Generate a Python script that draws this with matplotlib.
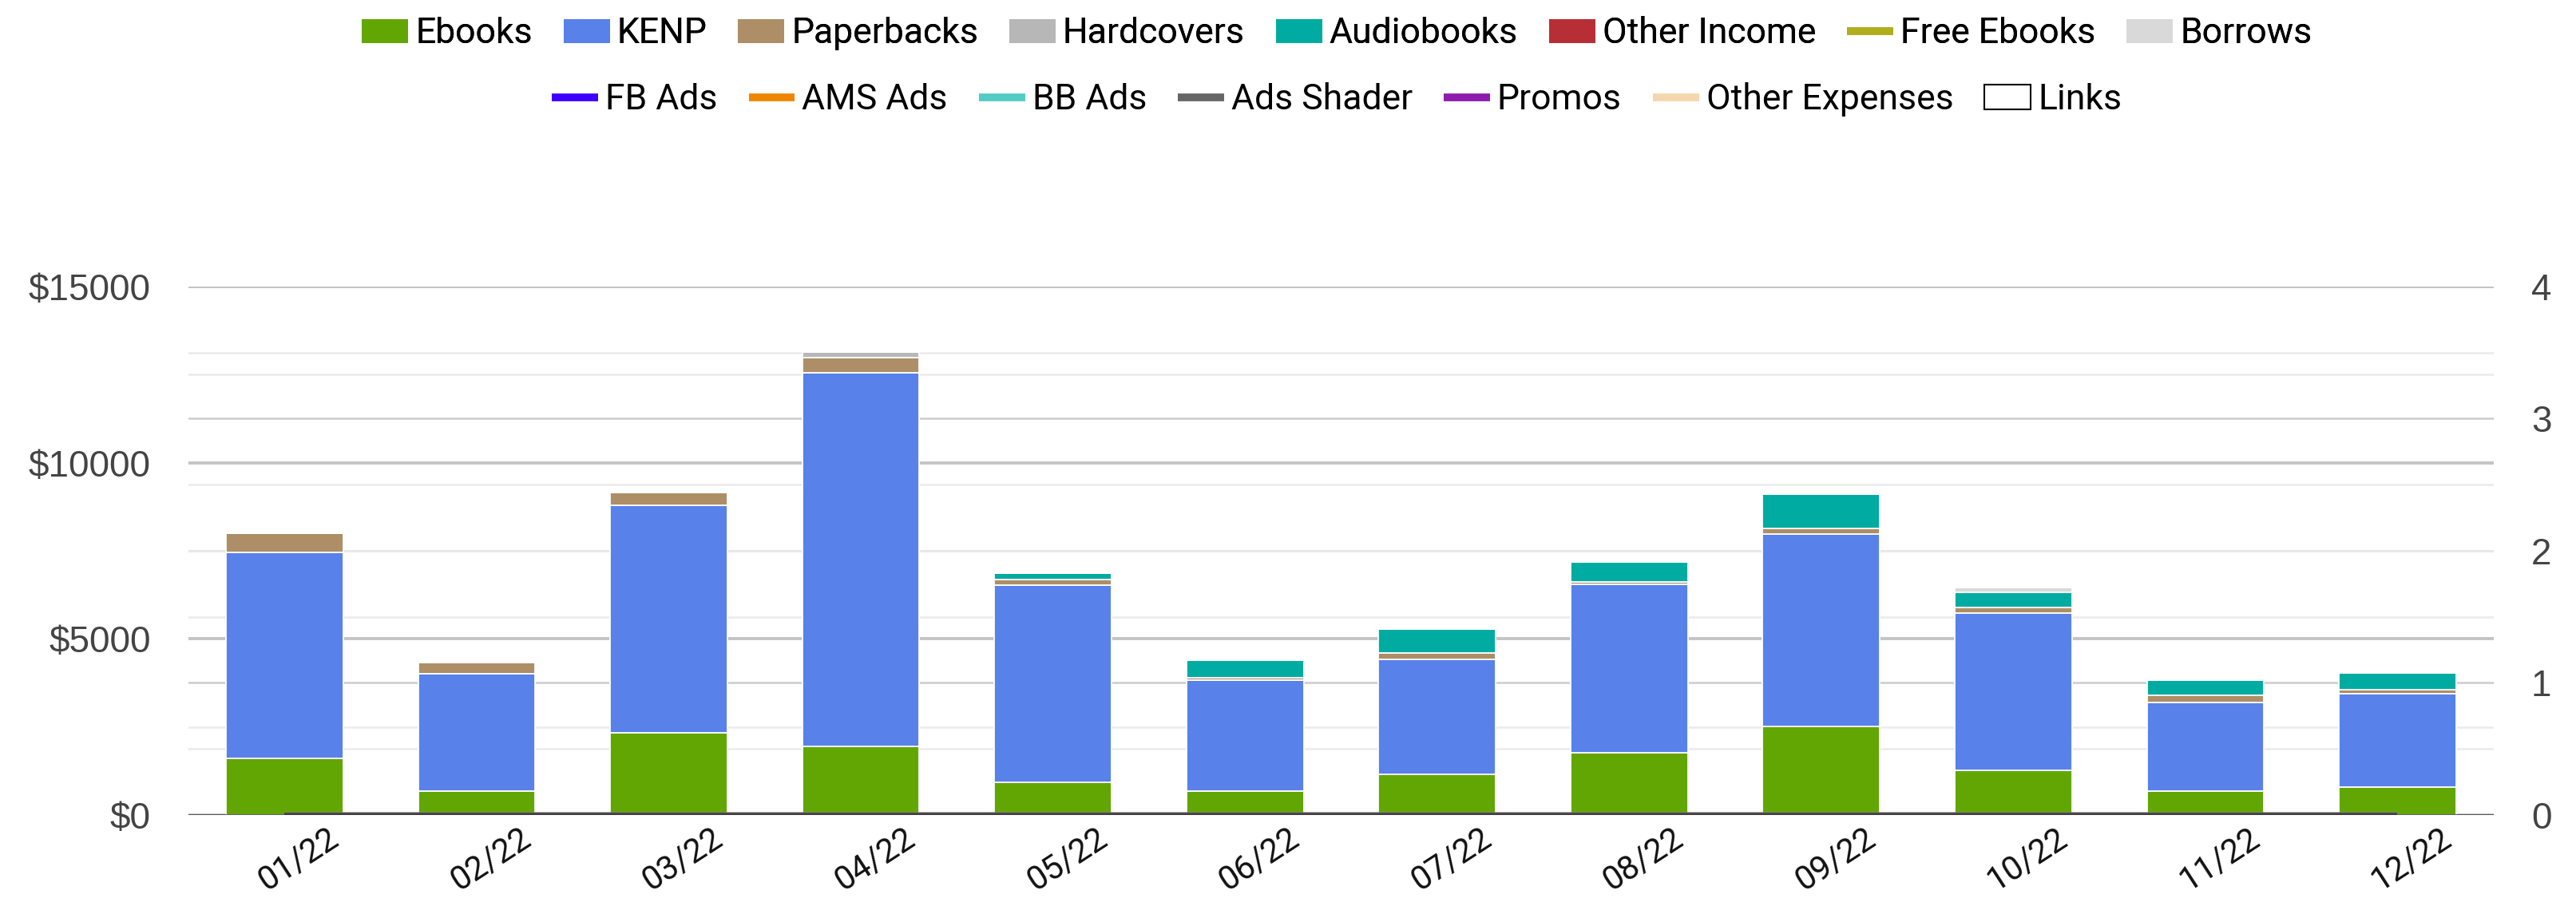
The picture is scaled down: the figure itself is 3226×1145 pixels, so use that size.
import matplotlib.pyplot as plt
from matplotlib.patches import Patch
from matplotlib.lines import Line2D
from matplotlib.ticker import MultipleLocator, FuncFormatter
from matplotlib.transforms import ScaledTranslation
import numpy as np

months = ["01/22", "02/22", "03/22", "04/22", "05/22", "06/22",
          "07/22", "08/22", "09/22", "10/22", "11/22", "12/22"]

# income series (stacked bars, left axis, $)
ebooks = [1610, 690, 2330, 1950, 930, 670, 1150, 1760, 2510, 1280, 670, 800]
kenp = [5840, 3325, 6460, 10610, 5600, 3160, 3260, 4780, 5470, 4460, 2530, 2640]
paperbacks = [540, 320, 360, 420, 150, 70, 190, 80, 160, 160, 200, 110]
hardcovers = [0, 0, 0, 170, 0, 0, 0, 0, 0, 0, 0, 0]
audiobooks = [0, 0, 0, 0, 175, 500, 670, 570, 970, 430, 420, 490]
other_income = [0] * 12
borrows = [0, 0, 0, 0, 0, 0, 30, 0, 50, 130, 0, 0]

# expense series (lines, all zero here)
free_ebooks = [0] * 12
fb_ads = [0] * 12
ams_ads = [0] * 12
bb_ads = [0] * 12
promos = [0] * 12
other_expenses = [0] * 12
ads_shader = [0] * 12

bar_series = [
    ("Ebooks", ebooks, "#62a604"),
    ("KENP", kenp, "#5881ea"),
    ("Paperbacks", paperbacks, "#ad8e66"),
    ("Hardcovers", hardcovers, "#b7b7b7"),
    ("Audiobooks", audiobooks, "#00aca1"),
    ("Other Income", other_income, "#b82e36"),
    ("Borrows", borrows, "#d9d9d9"),
]
line_series = [
    ("Free Ebooks", free_ebooks, "#b0ae1c"),
    ("FB Ads", fb_ads, "#3d00ff"),
    ("AMS Ads", ams_ads, "#ef8600"),
    ("BB Ads", bb_ads, "#52ccc4"),
    ("Promos", promos, "#8e1cad"),
    ("Other Expenses", other_expenses, "#f5d6ae"),
    ("Ads Shader", ads_shader, "#4a4a4a"),
]

fig = plt.figure(figsize=(32.26, 11.45), dpi=100)
ax = fig.add_axes([0.0732, 0.1083, 0.8948, 0.5782])
ax2 = ax.twinx()
ax.set_zorder(ax2.get_zorder() + 1)
ax.patch.set_visible(False)

x = np.arange(len(months))
bottom = np.zeros(len(months))
for name, vals, col in bar_series:
    vals = np.array(vals, dtype=float)
    ax.bar(x, vals, 0.61, bottom=bottom, color=col, edgecolor="white",
           linewidth=1.3, zorder=2)
    bottom += vals

for name, vals, col in line_series:
    ax.plot(x, vals, color=col, lw=4.5, zorder=4, solid_capstyle="butt")

ax.set_xlim(-0.5, 11.5)
ax.set_ylim(0, 15000)
ax2.set_ylim(0, 4)

ax.yaxis.set_major_locator(MultipleLocator(5000))
ax.yaxis.set_minor_locator(MultipleLocator(2500))
ax2.yaxis.set_major_locator(MultipleLocator(1))
ax2.yaxis.set_minor_locator(MultipleLocator(0.5))
ax.yaxis.set_major_formatter(FuncFormatter(lambda v, p: "$%d" % v))

ax.grid(True, which="major", axis="y", color="#c4c4c4", lw=2.8, zorder=0)
ax.grid(True, which="minor", axis="y", color="#ebebeb", lw=1.8, zorder=0)
ax2.grid(True, which="major", axis="y", color="#cccccc", lw=1.8)
ax2.grid(True, which="minor", axis="y", color="#ebebeb", lw=1.8)
ax.set_axisbelow(True)
ax.axhline(0, color="#333333", lw=1.8, zorder=5)

for a in (ax, ax2):
    for s in a.spines.values():
        s.set_visible(False)
    a.tick_params(length=0, which="both")

ax.tick_params(axis="y", labelsize=33, labelcolor="#444444", pad=34)
ax2.tick_params(axis="y", labelsize=33, labelcolor="#444444", pad=34)
for t in ax.get_yticklabels() + ax2.get_yticklabels():
    t.set_fontfamily("Liberation Sans")

ax.set_xticks(x)
ax.set_xticklabels(months, rotation=33, ha="center", fontsize=30,
                   fontfamily="Roboto", color="#111111")
ax.tick_params(axis="x", pad=6)
shift = ScaledTranslation(0.18, 0, fig.dpi_scale_trans)
for t in ax.get_xticklabels():
    t.set_transform(t.get_transform() + shift)

row1 = [Patch(facecolor=c, edgecolor="none", label=n) for n, v, c in bar_series[:6]]
row1.append(Line2D([], [], color="#b0ae1c", lw=7, label="Free Ebooks", solid_capstyle="butt"))
row1.append(Patch(facecolor="#d9d9d9", edgecolor="none", label="Borrows"))
row2 = [Line2D([], [], color=c, lw=7, label=n, solid_capstyle="butt")
        for n, c in [("FB Ads", "#3d00ff"), ("AMS Ads", "#ef8600"), ("BB Ads", "#52ccc4"),
                     ("Ads Shader", "#666666"), ("Promos", "#8e1cad"),
                     ("Other Expenses", "#f5d6ae")]]
row2.append(Patch(facecolor="white", edgecolor="black", lw=1.5, label="Links"))

leg_kw = dict(ncol=8, frameon=False, prop={"family": "Roboto", "size": 32},
              handlelength=1.3, handleheight=0.68, handletextpad=0.2,
              columnspacing=0.88, borderaxespad=0, borderpad=0)
l1 = fig.legend(handles=row1, loc="center", bbox_to_anchor=(0.519, 0.963), **leg_kw)
fig.add_artist(l1)
fig.legend(handles=row2, loc="center", bbox_to_anchor=(0.519, 0.891), **leg_kw)

fig.savefig("out.png", dpi=100, facecolor="white")
